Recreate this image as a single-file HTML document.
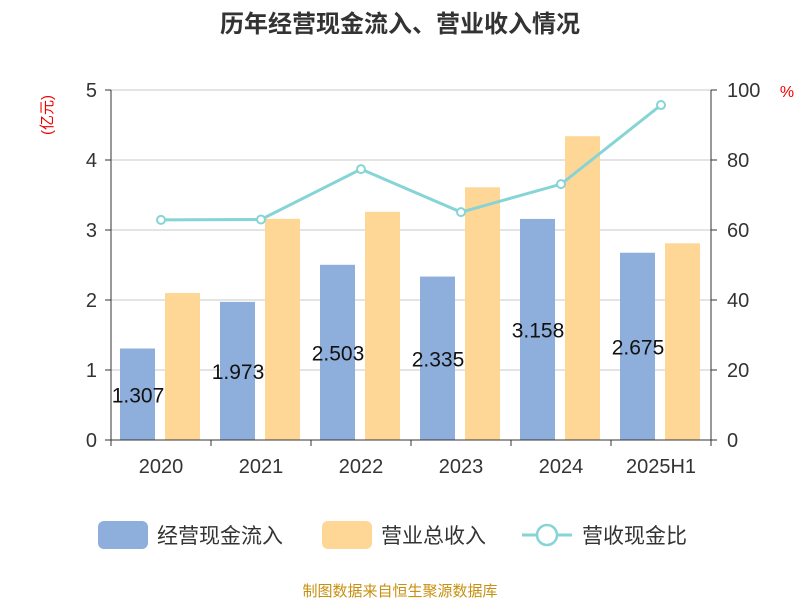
<!DOCTYPE html>
<html><head><meta charset="utf-8"><style>
body{margin:0;background:#fff;font-family:"Liberation Sans","Noto Sans CJK SC",sans-serif;}
</style></head><body>
<svg width="800" height="600" xmlns="http://www.w3.org/2000/svg" font-family="Liberation Sans, Noto Sans CJK SC, sans-serif">
<text x="400" y="32" text-anchor="middle" font-size="24" font-weight="bold" fill="#333">历年经营现金流入、营业收入情况</text>
<text transform="translate(52,115) rotate(-90)" text-anchor="middle" font-size="15" fill="#e00">(亿元)</text>
<text x="787" y="97" text-anchor="middle" font-size="16" fill="#e00">%</text>
<g id="grid"></g><g id="bars"></g><g id="axes"></g><g id="line"></g><g id="labels"></g>
<g>
<rect x="98" y="521" width="50" height="28" rx="6" fill="#8eaedb"/>
<text x="157" y="543" font-size="21" fill="#333">经营现金流入</text>
<rect x="322" y="521" width="50" height="28" rx="6" fill="#fed796"/>
<text x="381" y="543" font-size="21" fill="#333">营业总收入</text>
<line x1="522" y1="535" x2="572" y2="535" stroke="#86d4d6" stroke-width="3"/>
<circle cx="547" cy="535" r="10" fill="#fff" stroke="#86d4d6" stroke-width="2.5"/>
<text x="582" y="543" font-size="21" fill="#333">营收现金比</text>
</g>
<text x="400" y="596" text-anchor="middle" font-size="15" fill="#c89010">制图数据来自恒生聚源数据库</text>
</svg>
<script>
const categories=["2020","2021","2022","2023","2024","2025H1"];
const cashInflow=[1.307,1.973,2.503,2.335,3.158,2.675];
const revenue=[2.10,3.16,3.26,3.61,4.34,2.81];
const ratio=[62.9,63.0,77.4,65.1,73.1,95.7];
const leftTicks=[0,1,2,3,4,5];
const rightTicks=[0,20,40,60,80,100];
const NS="http://www.w3.org/2000/svg";
const X0=111,X1=711,Y0=440,Y1=90;
const gw=(X1-X0)/categories.length;
const yL=v=>Y0-(v/5)*(Y0-Y1);
const yR=v=>Y0-(v/100)*(Y0-Y1);
function mk(p,t,a){const e=document.createElementNS(NS,t);for(const k in a)e.setAttribute(k,a[k]);document.getElementById(p).appendChild(e);return e;}
leftTicks.forEach((t,i)=>{
 if(t>0){const g=mk("grid","line",{x1:X0,x2:X1,y1:yL(t),y2:yL(t),stroke:"#c8c8c8","stroke-width":1});
 
 }
 const tl=mk("axes","text",{x:X0-14,y:yL(t)+7,"text-anchor":"end","font-size":20,fill:"#333"});tl.textContent=t;
 
 
 mk("axes","line",{x1:X0-6,x2:X0,y1:yL(t),y2:yL(t),stroke:"#333"});
});
rightTicks.forEach(t=>{
 const tl=mk("axes","text",{x:X1+16,y:yR(t)+7,"font-size":20,fill:"#333"});tl.textContent=t;
 
 
 mk("axes","line",{x1:X1,x2:X1+6,y1:yR(t),y2:yR(t),stroke:"#333"});
});
mk("axes","line",{x1:X0,x2:X0,y1:Y1,y2:Y0,stroke:"#333"});
mk("axes","line",{x1:X1,x2:X1,y1:Y1,y2:Y0,stroke:"#333"});
mk("axes","line",{x1:X0,x2:X1,y1:Y0,y2:Y0,stroke:"#333"});
categories.forEach((c,i)=>{
 const gx=X0+i*gw;
 mk("axes","line",{x1:gx,x2:gx,y1:Y0,y2:Y0+6,stroke:"#333"});
 if(i==categories.length-1)mk("axes","line",{x1:gx+gw,x2:gx+gw,y1:Y0,y2:Y0+6,stroke:"#333"});
 const tl=mk("axes","text",{x:gx+gw/2,y:Y0+33,"text-anchor":"middle","font-size":20,fill:"#333"});tl.textContent=c;
 
 
 const b=mk("bars","rect",{x:gx+9,y:yL(cashInflow[i]),width:35,height:Y0-yL(cashInflow[i]),fill:"#8eaedb"});
 
 
 const r=mk("bars","rect",{x:gx+54,y:yL(revenue[i]),width:35,height:Y0-yL(revenue[i]),fill:"#fed796"});
 
 
 const v=mk("labels","text",{x:gx+27,y:(yL(cashInflow[i])+Y0)/2+8,"text-anchor":"middle","font-size":21,fill:"#111"});v.textContent=cashInflow[i].toFixed(3);
 
 
});
const pts=ratio.map((v,i)=>[X0+i*gw+gw/2,yR(v)]);
const pl=mk("line","polyline",{points:pts.map(p=>p.join(",")).join(" "),fill:"none",stroke:"#86d4d6","stroke-width":3});


pts.forEach((p,i)=>{const c=mk("line","circle",{cx:p[0],cy:p[1],r:4,fill:"#fff",stroke:"#86d4d6","stroke-width":2});
 
 });
</script>
</body></html>
